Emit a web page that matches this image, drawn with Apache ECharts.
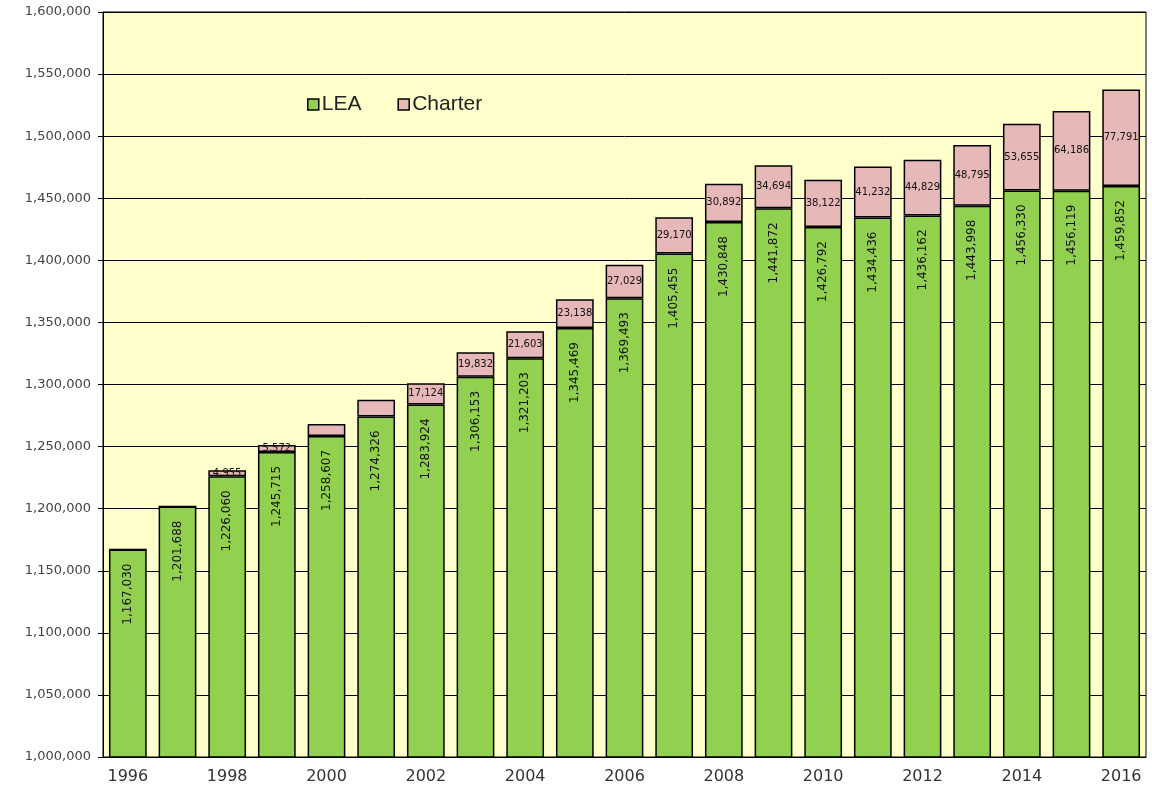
<!DOCTYPE html>
<html>
<head>
<meta charset="utf-8">
<script src="https://cdn.jsdelivr.net/npm/echarts@6/dist/echarts.min.js"></script>
<style>
html,body{margin:0;padding:0;background:#fff;}
#chart{width:1152px;height:797px;}
</style>
</head>
<body>
<div id="chart"></div>
<script>
const years = ['1996','1997','1998','1999','2000','2001','2002','2003','2004','2005','2006','2007','2008','2009','2010','2011','2012','2013','2014','2015','2016'];
const lea = [1167030,1201688,1226060,1245715,1258607,1274326,1283924,1306153,1321203,1345469,1369493,1405455,1430848,1441872,1426792,1434436,1436162,1443998,1456330,1456119,1459852];
const charter = [0,0,4955,5572,9600,13300,17124,19832,21603,23138,27029,29170,30892,34694,38122,41232,44829,48795,53655,64186,77791];
const charterLabelShown = [false,false,true,true,false,false,true,true,true,true,true,true,true,true,true,true,true,true,true,true,true];

const fmt = v => v.toLocaleString('en-US');
const chart = echarts.init(document.getElementById('chart'));
chart.setOption({
  animation: false,
  backgroundColor: '#ffffff',
  grid: {left: 103, right: 6, top: 12, bottom: 40, show: true, backgroundColor: '#FFFFCC', borderColor: '#000', borderWidth: 1},
  legend: {
    left: 302, top: 89, itemWidth: 11, itemHeight: 11, itemGap: 36, icon: 'rect',
    itemStyle: {borderColor: '#000', borderWidth: 1.5},
    textStyle: {fontFamily: 'Liberation Sans', fontSize: 21, color: '#222', padding: [0, 0, 0, -2]},
    data: ['LEA', 'Charter']
  },
  xAxis: {
    type: 'category', data: years,
    axisLine: {lineStyle: {color: '#000', width: 1}},
    axisTick: {interval: 1, length: 6, lineStyle: {color: '#000'}},
    axisLabel: {interval: 1, fontFamily: 'DejaVu Sans', fontSize: 16, color: '#333', margin: 12}
  },
  yAxis: {
    type: 'value', min: 1000000, max: 1600000, interval: 50000,
    axisLine: {show: true, lineStyle: {color: '#000'}},
    axisTick: {show: true, length: 5, lineStyle: {color: '#000'}},
    axisLabel: {fontFamily: 'DejaVu Sans', fontSize: 13, color: '#444', margin: 12, formatter: v => fmt(v)},
    splitLine: {lineStyle: {color: '#000', width: 1}}
  },
  series: [
    {
      name: 'LEA', type: 'bar', stack: 'total', barWidth: '76%',
      itemStyle: {color: '#92D050', borderColor: '#000', borderWidth: 1.5},
      label: {show: true, position: 'insideTop', distance: 14, rotate: 90, align: 'right', verticalAlign: 'middle',
        fontFamily: 'DejaVu Sans', fontSize: 12, color: '#111', formatter: p => fmt(p.value)},
      data: lea
    },
    {
      name: 'Charter', type: 'bar', stack: 'total', barWidth: '76%',
      itemStyle: {color: '#E6B8B7', borderColor: '#000', borderWidth: 1.5},
      label: {show: true, position: 'inside', fontFamily: 'DejaVu Sans', fontSize: 10, color: '#111',
        formatter: p => (charterLabelShown[p.dataIndex] ? fmt(p.value) : '')},
      data: charter
    }
  ]
});
</script>
</body>
</html>
